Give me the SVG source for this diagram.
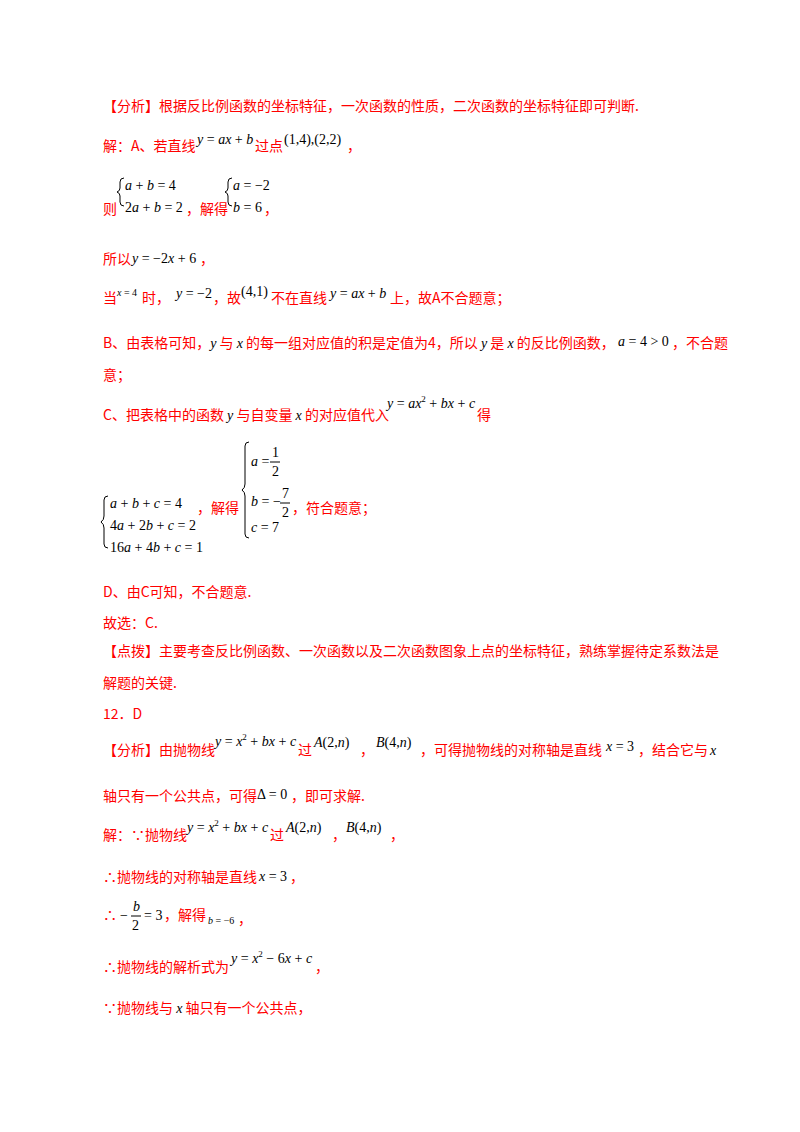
<svg xmlns="http://www.w3.org/2000/svg" width="800" height="1132" viewBox="0 0 800 1132">
<style>
.r{fill:#ff0000;font-family:"Noto Sans CJK SC","Liberation Sans",sans-serif;font-size:14px}
.m{fill:#000;font-family:"Liberation Serif",serif;font-size:14px;font-style:italic}
.n{font-style:normal}
.s{font-size:10px}
.b{fill:none;stroke:#000;stroke-width:1}
</style>
<rect width="800" height="1132" fill="#fff"/>
<text class="r" x="103" y="111">【分析】根据反比例函数的坐标特征，一次函数的性质，二次函数的坐标特征即可判断.</text>
<text class="r" x="103" y="151">解：A、若直线</text>
<text class="m" x="197" y="144">y <tspan class="n">=</tspan> ax <tspan class="n">+</tspan> b</text>
<text class="r" x="255" y="151">过点</text>
<text class="m n" x="284" y="144" font-size="15">(1,4),(2,2)</text>
<text class="r" x="347" y="151">，</text>
<path class="b" d="M124,178 q-4,0 -4,4 v6 q0,3 -3,4 q3,1 3,4 v6 q0,4 4,4"/>
<text class="m" x="125" y="190">a <tspan class="n">+</tspan> b <tspan class="n">= 4</tspan></text>
<text class="r" x="103" y="214">则</text>
<text class="m" x="125" y="212"><tspan class="n">2</tspan>a <tspan class="n">+</tspan> b <tspan class="n">= 2</tspan></text>
<text class="r" x="186" y="214">，解得</text>
<path class="b" d="M232,178 q-4,0 -4,4 v6 q0,3 -3,4 q3,1 3,4 v6 q0,4 4,4"/>
<text class="m" x="233" y="190">a <tspan class="n">= −2</tspan></text>
<text class="m" x="233" y="212">b <tspan class="n">= 6</tspan></text>
<text class="r" x="264" y="214">，</text>
<text class="r" x="103" y="264">所以</text>
<text class="m" x="132" y="263">y <tspan class="n">= −2</tspan>x <tspan class="n">+ 6</tspan></text>
<text class="r" x="200" y="264">，</text>
<text class="r" x="103" y="303">当</text>
<text class="m s" x="117" y="296">x <tspan class="n">= 4</tspan></text>
<text class="r" x="142" y="303">时，</text>
<text class="m" x="176" y="298">y <tspan class="n">= −2</tspan></text>
<text class="r" x="213" y="303">，故</text>
<text class="m n" x="241" y="296" font-size="15">(4,1)</text>
<text class="r" x="271" y="303">不在直线</text>
<text class="m" x="330" y="298">y <tspan class="n">=</tspan> ax <tspan class="n">+</tspan> b</text>
<text class="r" x="390" y="303">上，故A不合题意；</text>
<text class="r" x="103" y="348">B、由表格可知，<tspan class="m">y</tspan> 与 <tspan class="m">x</tspan> 的每一组对应值的积是定值为4，所以 <tspan class="m">y</tspan> 是 <tspan class="m">x</tspan> 的反比例函数，</text>
<text class="m" x="618" y="346">a <tspan class="n">= 4 &gt; 0</tspan></text>
<text class="r" x="672" y="348">，不合题</text>
<text class="r" x="103" y="380">意；</text>
<text class="r" x="103" y="420">C、把表格中的函数 <tspan class="m">y</tspan> 与自变量 <tspan class="m">x</tspan> 的对应值代入</text>
<text class="m" x="387" y="408">y <tspan class="n">=</tspan> ax<tspan class="n" font-size="9" dy="-6">2</tspan><tspan dy="6"> </tspan><tspan class="n">+</tspan> bx <tspan class="n">+</tspan> c</text>
<text class="r" x="477" y="420">得</text>
<path class="b" d="M108,496 q-4,0 -4,4 v16 q0,4 -3,6 q3,2 3,6 v16 q0,4 4,4"/>
<text class="m" x="110" y="508">a <tspan class="n">+</tspan> b <tspan class="n">+</tspan> c <tspan class="n">= 4</tspan></text>
<text class="m" x="110" y="530"><tspan class="n">4</tspan>a <tspan class="n">+ 2</tspan>b <tspan class="n">+</tspan> c <tspan class="n">= 2</tspan></text>
<text class="m" x="110" y="552"><tspan class="n">16</tspan>a <tspan class="n">+ 4</tspan>b <tspan class="n">+</tspan> c <tspan class="n">= 1</tspan></text>
<text class="r" x="197" y="513">，解得</text>
<path class="b" d="M249,442 q-4,0 -4,4 v38 q0,4 -3,6 q3,2 3,6 v38 q0,4 4,4"/>
<text class="m" x="251" y="466">a <tspan class="n">=</tspan></text>
<text class="m n" x="272" y="457">1</text>
<line class="b" x1="270" y1="462" x2="280" y2="462"/>
<text class="m n" x="272" y="476">2</text>
<text class="m" x="251" y="506">b <tspan class="n">= −</tspan></text>
<text class="m n" x="282" y="498">7</text>
<line class="b" x1="280" y1="503" x2="290" y2="503"/>
<text class="m n" x="282" y="517">2</text>
<text class="r" x="292" y="513">，符合题意；</text>
<text class="m" x="251" y="532">c <tspan class="n">= 7</tspan></text>
<text class="r" x="103" y="597">D、由C可知，不合题意.</text>
<text class="r" x="103" y="628">故选：C.</text>
<text class="r" x="103" y="656">【点拨】主要考查反比例函数、一次函数以及二次函数图象上点的坐标特征，熟练掌握待定系数法是</text>
<text class="r" x="103" y="688">解题的关键.</text>
<text class="r" x="103" y="719">12．D</text>
<text class="r" x="103" y="755">【分析】由抛物线</text>
<text class="m" x="215" y="746">y <tspan class="n">=</tspan> x<tspan class="n" font-size="9" dy="-6">2</tspan><tspan dy="6"> </tspan><tspan class="n">+</tspan> bx <tspan class="n">+</tspan> c</text>
<text class="r" x="298" y="755">过</text>
<text class="m" x="314" y="747" font-size="15">A<tspan class="n">(2,</tspan>n<tspan class="n">)</tspan></text>
<text class="r" x="360" y="755">，</text>
<text class="m" x="376" y="747" font-size="15">B<tspan class="n">(4,</tspan>n<tspan class="n">)</tspan></text>
<text class="r" x="420" y="755">，可得抛物线的对称轴是直线</text>
<text class="m" x="606" y="751">x <tspan class="n">= 3</tspan></text>
<text class="r" x="638" y="755">，结合它与</text>
<text class="m" x="710" y="755">x</text>
<text class="r" x="103" y="801">轴只有一个公共点，可得</text>
<text class="m n" x="257" y="799">Δ = 0</text>
<text class="r" x="291" y="801">，即可求解.</text>
<text class="r" x="103" y="840">解：∵抛物线</text>
<text class="m" x="187" y="832">y <tspan class="n">=</tspan> x<tspan class="n" font-size="9" dy="-6">2</tspan><tspan dy="6"> </tspan><tspan class="n">+</tspan> bx <tspan class="n">+</tspan> c</text>
<text class="r" x="270" y="840">过</text>
<text class="m" x="286" y="832" font-size="15">A<tspan class="n">(2,</tspan>n<tspan class="n">)</tspan></text>
<text class="r" x="332" y="840">，</text>
<text class="m" x="346" y="832" font-size="15">B<tspan class="n">(4,</tspan>n<tspan class="n">)</tspan></text>
<text class="r" x="390" y="840">，</text>
<text class="r" x="103" y="882">∴抛物线的对称轴是直线</text>
<text class="m" x="259" y="881">x <tspan class="n">= 3</tspan></text>
<text class="r" x="290" y="882">，</text>
<text class="r" x="103" y="920">∴</text>
<text class="m n" x="120" y="920">−</text>
<text class="m" x="133" y="911">b</text>
<line class="b" x1="131" y1="916" x2="141" y2="916"/>
<text class="m n" x="132" y="930">2</text>
<text class="m n" x="144" y="920">= 3</text>
<text class="r" x="164" y="920">，解得</text>
<text class="m s" x="208" y="924">b <tspan class="n">= −6</tspan></text>
<text class="r" x="238" y="924">，</text>
<text class="r" x="103" y="972">∴抛物线的解析式为</text>
<text class="m" x="231" y="963">y <tspan class="n">=</tspan> x<tspan class="n" font-size="9" dy="-6">2</tspan><tspan dy="6"> </tspan><tspan class="n">− 6</tspan>x <tspan class="n">+</tspan> c</text>
<text class="r" x="315" y="972">，</text>
<text class="r" x="103" y="1013">∵抛物线与 <tspan class="m">x</tspan> 轴只有一个公共点，</text>
</svg>
